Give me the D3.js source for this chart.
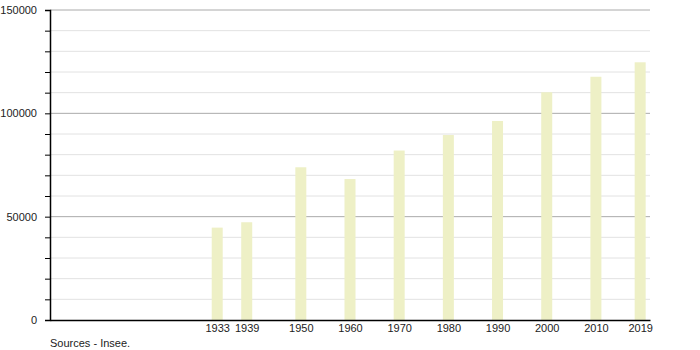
<!DOCTYPE html>
<html>
<head>
<meta charset="utf-8">
<script src="https://cdn.jsdelivr.net/npm/d3@7"></script>
<style>
  body { margin: 0; background: #fff; }
  text { font-family: "Liberation Sans", Arial, sans-serif; font-size: 11px; fill: #222; }
</style>
</head>
<body>
<div id="chart"></div>
<script>
const years = [1933, 1939, 1950, 1960, 1970, 1980, 1990, 2000, 2010, 2019];
const population = [44700, 47300, 73900, 68200, 82000, 89500, 96300, 110200, 117700, 124700];
const yTicks = [0, 50000, 100000, 150000];

const width = 700, height = 350;
const plotLeft = 50, plotRight = 650, plotTop = 10, plotBottom = 320;

const svg = d3.select("#chart")
    .append("svg")
    .attr("width", width)
    .attr("height", height);

const x = d3.scaleLinear()
    .domain([1899, 2021])
    .range([plotLeft, plotRight]);

const y = d3.scaleLinear()
    .domain([0, 150000])
    .range([plotBottom, plotTop]);

// grid lines, minor then major
const minor = d3.range(10000, 150001, 10000).filter(v => v % 50000 !== 0);
svg.append("g")
    .selectAll("line")
    .data(minor)
    .enter()
    .append("line")
    .attr("x1", plotLeft).attr("x2", plotRight)
    .attr("y1", d => y(d)).attr("y2", d => y(d))
    .attr("stroke", "#e2e2e2");

svg.append("g")
    .selectAll("line")
    .data(yTicks.filter(v => v > 0))
    .enter()
    .append("line")
    .attr("x1", plotLeft).attr("x2", plotRight)
    .attr("y1", d => y(d)).attr("y2", d => y(d))
    .attr("stroke", "#aaa");

// bars
svg.selectAll(".bar")
    .data(years)
    .enter()
    .append("rect")
    .attr("class", "bar")
    .attr("x", d => x(d) - 5.5)
    .attr("y", (d, i) => y(population[i]))
    .attr("width", 11)
    .attr("height", (d, i) => plotBottom - y(population[i]))
    .attr("fill", "#eef0c6");

// y axis with minor ticks
const yAxis = svg.append("g")
    .attr("transform", `translate(${plotLeft},0)`)
    .call(d3.axisLeft(y)
        .tickValues(d3.range(0, 150001, 10000))
        .tickSize(5)
        .tickFormat(d => yTicks.includes(d) ? d : ""));
yAxis.select(".domain").attr("stroke", "#000").attr("stroke-width", 1.5);
yAxis.selectAll(".tick line").attr("stroke", "#000");
yAxis.selectAll(".tick text")
    .attr("x", -13)
    .style("font-family", "'Liberation Sans', Arial, sans-serif")
    .style("font-size", "11px")
    .attr("fill", "#222");

// x axis, labels only
const xAxis = svg.append("g")
    .attr("transform", `translate(0,${plotBottom})`)
    .call(d3.axisBottom(x).tickValues(years).tickSize(0).tickFormat(d3.format("d")));
xAxis.select(".domain").attr("stroke", "#000").attr("stroke-width", 1.5);
xAxis.selectAll(".tick text")
    .attr("y", 4)
    .style("font-family", "'Liberation Sans', Arial, sans-serif")
    .style("font-size", "11px")
    .attr("fill", "#222");

svg.append("text")
    .attr("x", plotLeft)
    .attr("y", 347)
    .text("Sources - Insee.");
</script>
</body>
</html>
